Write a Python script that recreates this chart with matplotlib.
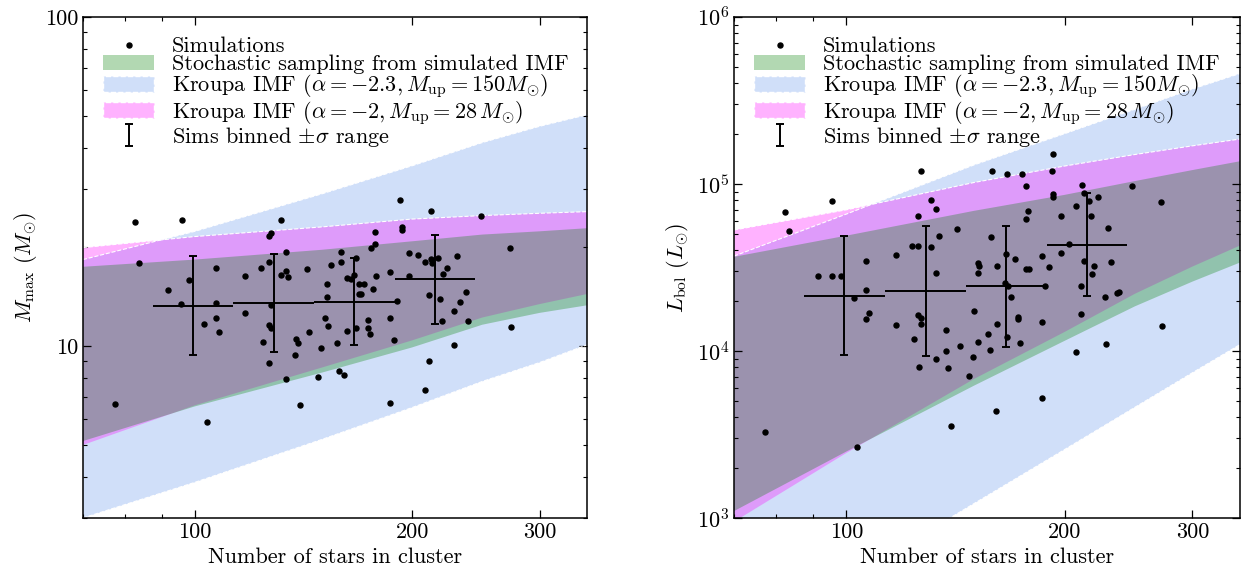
import matplotlib
matplotlib.use('Agg')
import matplotlib.pyplot as plt
from matplotlib import ticker
from matplotlib.patches import Patch
import numpy as np

plt.rcParams['font.family'] = 'serif'
plt.rcParams['font.serif'] = ['cmr10']
plt.rcParams['mathtext.fontset'] = 'cm'
plt.rcParams['axes.formatter.use_mathtext'] = True
plt.rcParams['font.size'] = 16

# simulated clusters: number of stars vs most massive star
n_sims_m = [82.6, 95.9, 131.5, 192.5, 212.5, 249, 273, 83.7, 98.1, 106.9, 117.2, 123.4,
            126.5, 126.5, 127.3, 133.6, 131.5, 133.6, 134.4, 142.8, 154.1, 159.1, 159.1,
            162.2, 164.3, 167.4, 166.3, 175.6, 177.3, 177.8, 178.4, 186.5, 193.8, 193.8,
            198.1, 198.1, 203.9, 208.5, 212.5, 213.2, 217.3, 223.6, 220.8, 230.8, 91.8,
            95.6, 106.9, 102.9, 106.9, 107.9, 117.2, 126.5, 127.3, 127.3, 124.1, 126.5,
            133.6, 137.9, 138.8, 137.4, 139.6, 143.7, 147.9, 149.7, 151.2, 153.1, 152.6,
            152.6, 157.1, 158.1, 161.1, 162.2, 166.9, 168.5, 171.2, 168.5, 169.6, 173.4,
            173.4, 174.5, 176.7, 186.5, 188.9, 190.7, 186.5, 208.5, 211.2, 211.2, 218.7,
            220, 228.6, 233, 228.6, 237.5, 239, 274.1, 77.5, 103.9]
m_sims = [23.8, 24.2, 24.2, 27.8, 25.7, 24.8, 19.9, 17.9, 15.9, 17.3, 16.3, 17.3, 18.0,
          21.6, 22.1, 19.3, 16.4, 16.9, 16.2, 17.1, 17.6, 18.0, 19.3, 16.1, 16.0, 18.5,
          16.4, 19.9, 20.4, 22.2, 16.3, 16.8, 23.0, 22.5, 19.2, 16.3, 18.9, 18.0, 18.4,
          17.9, 18.5, 17.3, 16.6, 18.8, 14.8, 13.4, 13.5, 11.7, 12.2, 11.0, 12.6, 11.6,
          11.3, 13.3, 10.3, 8.88, 7.94, 10.5, 10.2, 9.39, 6.62, 11.0, 8.05, 9.86, 12.2,
          11.5, 15.4, 14.1, 10.2, 8.39, 8.16, 11.1, 11.3, 15.4, 15.4, 14.4, 14.4, 12.0,
          11.3, 10.9, 14.9, 12.2, 10.4, 13.7, 6.71, 7.35, 14.3, 9.0, 13.9, 11.9, 12.8,
          13.6, 10.07, 14.6, 11.9, 11.4, 6.66, 5.87]

# simulated clusters: number of stars vs bolometric luminosity
n_sims_l = [82.3, 83.4, 95.6, 126.9, 131, 133.1, 125.7, 142.3, 134, 123, 125.7, 131,
            116.9, 106.6, 91.5, 95.6, 98.4, 106.6, 133.1, 158.6, 166.3, 174.5, 176.7,
            177.8, 176.7, 192.5, 191.9, 192.5, 192.5, 197.5, 211.2, 212.5, 215.9, 222.2,
            207.2, 217.3, 229.4, 247.6, 271.5, 158.1, 152.1, 152.6, 152.1, 161.1, 165.8,
            170.6, 176.7, 178.4, 185.9, 190.1, 197.5, 202.6, 212.5, 219.3, 218, 231.6,
            237.5, 236, 227.2, 210.5, 187.7, 165.3, 166.9, 168.5, 102.6, 106.6, 107.6,
            77.3, 103.6, 116.9, 125.7, 126.9, 126.9, 124.1, 126.1, 133.1, 137, 137,
            138.3, 143.3, 139.2, 147.4, 149.3, 150.2, 152.1, 156.6, 157.6, 161.1, 160.6,
            166.3, 172.3, 172.3, 173.4, 185.9, 185.9, 207.2, 210.5, 227.9, 272.3]
l_sims = [6.80e4, 5.23e4, 7.91e4, 1.20e5, 8.02e4, 7.08e4, 6.43e4, 5.38e4, 4.89e4, 4.25e4,
          4.25e4, 4.20e4, 3.76e4, 3.46e4, 2.81e4, 2.81e4, 2.81e4, 2.32e4, 2.93e4, 1.20e5,
          1.15e5, 1.15e5, 9.73e4, 6.89e4, 6.17e4, 1.51e5, 1.20e5, 8.71e4, 8.36e4, 6.43e4,
          9.86e4, 8.83e4, 7.91e4, 8.36e4, 7.38e4, 6.43e4, 5.45e4, 9.73e4, 7.80e4, 4.82e4,
          3.37e4, 3.23e4, 2.93e4, 3.23e4, 3.81e4, 3.56e4, 3.10e4, 3.10e4, 3.70e4, 3.18e4,
          3.86e4, 4.37e4, 3.46e4, 3.23e4, 2.89e4, 3.41e4, 2.26e4, 2.22e4, 2.10e4, 2.45e4,
          2.45e4, 2.55e4, 2.45e4, 2.10e4, 2.08e4, 1.55e4, 1.69e4, 3.27e3, 2.66e3, 1.43e4,
          1.64e4, 1.58e4, 1.45e4, 1.18e4, 8.02e3, 8.96e3, 1.34e4, 1.0e4, 7.91e3, 1.07e4,
          3.56e3, 7.08e3, 9.2e3, 1.74e4, 1.13e4, 1.26e4, 1.01e4, 1.45e4, 4.37e3, 1.21e4,
          1.60e4, 1.55e4, 1.12e4, 1.49e4, 5.23e3, 9.86e3, 1.67e4, 1.10e4, 1.41e4]

# model bands (edges read at these N)
n_grid = [70, 100, 150, 200, 250, 300, 350]

stoch_lo_m = [5.14, 6.55, 8.3, 9.9, 11.6, 12.6, 13.3]
stoch_hi_m = [17.4, 18.3, 19.6, 20.8, 21.8, 22.3, 22.8]
kr23_lo_m = [3.0, 3.85, 5.2, 6.5, 7.8, 8.9, 10.1]
kr23_hi_m = [18.3, 22.3, 29.0, 35.3, 41.5, 46.5, 50.5]
kr2_lo_m = [5.0, 6.6, 8.6, 10.4, 12.2, 13.4, 14.4]
kr2_hi_m = [19.9, 21.5, 23.0, 24.3, 24.9, 25.3, 25.6]

stoch_lo_l = [1100, 2500, 6200, 1.15e4, 1.85e4, 2.6e4, 3.4e4]
stoch_hi_l = [3.66e4, 4.9e4, 6.9e4, 8.6e4, 1.04e5, 1.21e5, 1.37e5]
kr23_lo_l = [168, 425, 1220, 2570, 4600, 7400, 1.1e4]
kr23_hi_l = [3.7e4, 6.6e4, 1.3e5, 2.0e5, 2.8e5, 3.7e5, 4.6e5]
kr2_lo_l = [950, 2450, 6800, 1.3e4, 2.2e4, 3.2e4, 4.3e4]
kr2_hi_l = [5.3e4, 7.0e4, 1.02e5, 1.28e5, 1.5e5, 1.69e5, 1.86e5]

# binned simulations
bin_edges = [87.5, 113, 146, 189, 244]
bin_mid = [99.4, 128.6, 166, 215]
m_bin = [13.2, 13.5, 13.6, 16.0]
m_bin_lo = [9.39, 9.59, 10.1, 11.7]
m_bin_hi = [18.8, 19.0, 18.5, 21.7]
l_bin = [2.13e4, 2.28e4, 2.45e4, 4.32e4]
l_bin_lo = [9.46e3, 9.3e3, 1.06e4, 2.13e4]
l_bin_hi = [4.89e4, 5.6e4, 5.6e4, 8.8e4]

labels = ['Simulations',
          'Stochastic sampling from simulated IMF',
          r'Kroupa IMF ($\alpha = -2.3, M_{\rm up} = 150M_{\odot}$)',
          r'Kroupa IMF ($\alpha = -2, M_{\rm up} = 28\,M_{\odot}$)',
          r'Sims binned $\pm\sigma$ range']

c_blue = (0.392, 0.584, 0.929, 0.3)
c_mag = (1, 0, 1, 0.3)
c_green = (0, 0.5, 0, 0.3)


def panel(ax, n, y, stoch, kr23, kr2, ybin, ylo, yhi):
    ax.fill_between(n_grid, kr23[0], kr23[1], facecolor=c_blue, linewidth=0)
    # ragged outer edges of the Kroupa bands
    ax.plot(n_grid, kr23[0], color='white', ls='--', lw=0.8)
    ax.plot(n_grid, kr23[1], color='white', ls='--', lw=0.8)
    ax.fill_between(n_grid, kr2[0], kr2[1], facecolor=c_mag, linewidth=0)
    ax.plot(n_grid, kr2[1], color='white', ls='--', lw=0.8)
    ax.fill_between(n_grid, stoch[0], stoch[1], facecolor=c_green, linewidth=0)

    h_pts, = ax.plot(n, y, 'o', color='k', ms=3.6, ls='none')
    ybin = np.array(ybin)
    h_err = ax.errorbar(bin_mid, ybin, yerr=[ybin - np.array(ylo), np.array(yhi) - ybin],
                        fmt='none', ecolor='k', elinewidth=1.4, capsize=3, capthick=1.4)
    ax.hlines(ybin, bin_edges[:-1], bin_edges[1:], color='k', lw=1.4)

    h_st = Patch(facecolor=c_green, linewidth=0)
    h_kr23 = Patch(facecolor=c_blue, edgecolor='white', linestyle='--', linewidth=1.0)
    h_kr2 = Patch(facecolor=c_mag, edgecolor='white', linestyle='--', linewidth=1.0)
    ax.legend([h_pts, h_st, h_kr23, h_kr2, h_err], labels, loc='upper left', frameon=False,
              numpoints=1, handlelength=2.3, labelspacing=-0.08, fontsize=16,
              borderaxespad=0.5)

    ax.set_xscale('log')
    ax.set_yscale('log')
    ax.set_xlim(70, 349)
    ax.set_xticks([100, 200, 300])
    ax.set_xticklabels(['100', '200', '300'])
    ax.xaxis.set_minor_formatter(ticker.NullFormatter())
    ax.yaxis.set_minor_formatter(ticker.NullFormatter())
    ax.tick_params(which='both', direction='in', top=True, right=True)
    ax.tick_params(which='major', length=6, width=0.9)
    ax.tick_params(which='minor', length=3, width=0.8)
    for s in ax.spines.values():
        s.set_linewidth(1.1)
    ax.set_xlabel('Number of stars in cluster')


fig = plt.figure(figsize=(12.42, 5.76), dpi=100)
ax1 = fig.add_axes([0.0668, 0.1007, 0.4058, 0.870])
ax2 = fig.add_axes([0.591, 0.1007, 0.4074, 0.870])

panel(ax1, n_sims_m, m_sims, (stoch_lo_m, stoch_hi_m), (kr23_lo_m, kr23_hi_m),
      (kr2_lo_m, kr2_hi_m), m_bin, m_bin_lo, m_bin_hi)
ax1.set_ylim(3, 100)
ax1.yaxis.set_major_formatter(ticker.FuncFormatter(lambda v, p: '%d' % round(v)))
ax1.set_ylabel(r'$M_{\rm max}$ ($M_{\odot}$)')

panel(ax2, n_sims_l, l_sims, (stoch_lo_l, stoch_hi_l), (kr23_lo_l, kr23_hi_l),
      (kr2_lo_l, kr2_hi_l), l_bin, l_bin_lo, l_bin_hi)
ax2.set_ylim(1e3, 1e6)
ax2.set_ylabel(r'$L_{\rm bol}$ ($L_{\odot}$)')

fig.savefig('out.png', dpi=100)
